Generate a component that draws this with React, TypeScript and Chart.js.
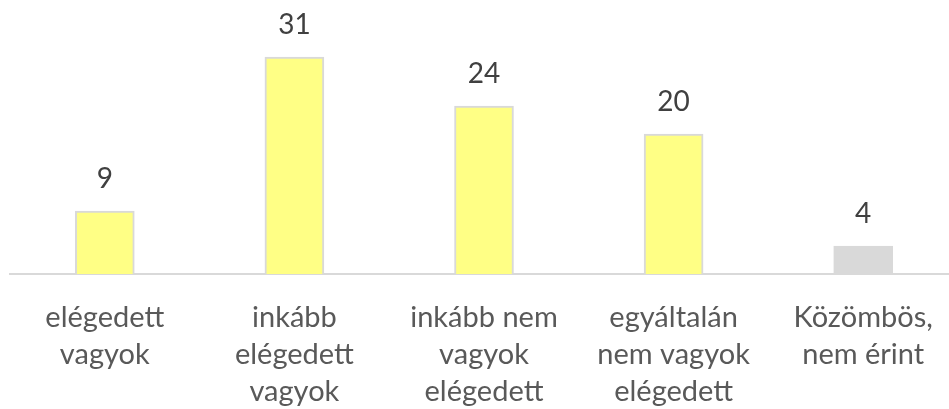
import React, { useEffect, useRef } from "react";
import { Chart, registerables } from "chart.js";

Chart.register(...registerables);

const categories: string[][] = [
  ["elégedett", "vagyok"],
  ["inkább", "elégedett", "vagyok"],
  ["inkább nem", "vagyok", "elégedett"],
  ["egyáltalán", "nem vagyok", "elégedett"],
  ["Közömbös,", "nem érint"],
];
const values: number[] = [9, 31, 24, 20, 4];
const barColors: string[] = ["#FFFF85", "#FFFF85", "#FFFF85", "#FFFF85", "#D9D9D9"];
const borderColors: string[] = ["#D9D9D9", "#D9D9D9", "#D9D9D9", "#D9D9D9", "#D9D9D9"];

const FONT = "Lato, 'Noto Sans', sans-serif";

const valueLabels = {
  id: "valueLabels",
  afterDatasetsDraw(chart: any) {
    const ctx = chart.ctx;
    const meta = chart.getDatasetMeta(0);
    ctx.save();
    ctx.fillStyle = "#404040";
    ctx.font = `28px ${FONT}`;
    ctx.textAlign = "center";
    ctx.textBaseline = "alphabetic";
    meta.data.forEach((bar: any, i: number) => {
      ctx.fillText(String(values[i]), bar.x, bar.y - 23);
    });
    ctx.restore();
  },
};

export default function App() {
  const ref = useRef<HTMLCanvasElement>(null);
  useEffect(() => {
    document.body.style.margin = "0";
    const chart = new Chart(ref.current!, {
      type: "bar",
      data: {
        labels: categories,
        datasets: [
          {
            data: values,
            backgroundColor: barColors,
            borderColor: borderColors,
            borderWidth: 2,
            barThickness: 59,
          },
        ],
      },
      options: {
        animation: false,
        responsive: false,
        layout: { padding: { top: 29, bottom: 0, left: 10, right: 0 } },
        plugins: { legend: { display: false }, tooltip: { enabled: false } },
        scales: {
          x: {
            grid: { display: false },
            border: { display: true, color: "#D9D9D9", width: 2 },
            afterFit: (scale: any) => {
              scale.height = 135;
            },
            ticks: {
              color: "#595959",
              padding: 17,
              maxRotation: 0,
              autoSkip: false,
              font: { family: FONT, size: 29, lineHeight: 37 / 29 },
            },
          },
          y: { display: false, min: 0, max: 35 },
        },
      },
      plugins: [valueLabels],
    });
    return () => chart.destroy();
  }, []);
  return (
    <div style={{ width: 949, height: 409, overflow: "hidden", position: "relative" }}>
      <canvas ref={ref} width={958} height={409} style={{ display: "block" }} />
    </div>
  );
}
